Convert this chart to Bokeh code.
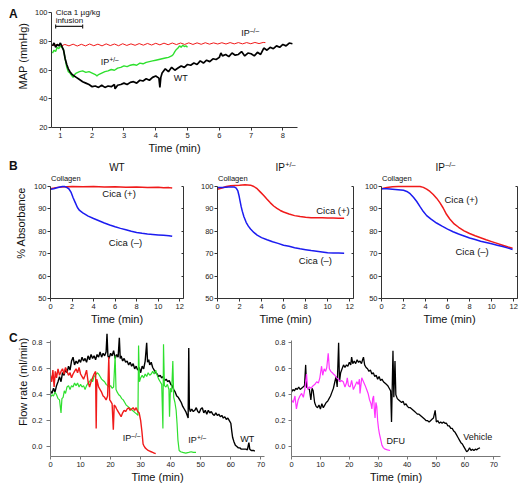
from bokeh.plotting import figure
from bokeh.layouts import column, row
from bokeh.models import Label, LinearAxis, FixedTicker, NumeralTickFormatter, Range1d
from bokeh.embed import file_html
from bokeh.resources import INLINE

FONT = "Liberation Sans"
RED = "#f01a1a"
GREEN = "#2ee02e"
BLUE = "#1c1cf0"
MAGENTA = "#ff33ff"
BLACK = "#000000"

# ---------------- Panel A: MAP (mmHg) vs time (min) ----------------
a_xticks = [1, 2, 3, 4, 5, 6, 7, 8]
a_yticks = [20, 40, 60, 80, 100]
infusion = [0.85, 1.7]
a_wt_t = [0.75, 0.8, 0.85, 0.9, 0.95, 1.0, 1.05, 1.1, 1.15, 1.2,
          1.25, 1.3, 1.35, 1.4, 1.5, 1.6, 1.7, 1.8, 1.9, 2.0,
          2.1, 2.2, 2.3, 2.4, 2.5, 2.6, 2.7, 2.72, 2.8, 2.9,
          3.0, 3.1, 3.2, 3.3, 3.4, 3.5, 3.6, 3.7, 3.8, 3.9,
          4.0, 4.1, 4.13, 4.16, 4.2, 4.3, 4.4, 4.5, 4.6, 4.7,
          4.8, 4.9, 5.0, 5.1, 5.2, 5.3, 5.4, 5.5, 5.6, 5.7,
          5.8, 5.9, 6.0, 6.05, 6.1, 6.2, 6.3, 6.4, 6.5, 6.6,
          6.7, 6.8, 6.9, 7.0, 7.1, 7.2, 7.3, 7.4, 7.5, 7.6,
          7.7, 7.8, 7.9, 8.0, 8.1, 8.2, 8.3]
a_wt_v = [77, 79, 76, 78, 77, 79, 76.5, 74, 68, 64,
          61, 59, 57.5, 56.5, 55, 53.5, 52, 51, 50, 48.5,
          49, 48, 49.5, 48, 49, 48.5, 50, 47, 49.5, 50,
          51, 50, 51.5, 52, 51, 53, 52.5, 54, 53, 55,
          56, 54.5, 48, 55, 58, 61, 59, 62, 60, 61.5,
          63, 62, 64, 63.5, 65, 64, 66.5, 65, 67, 66,
          68, 67.5, 69, 72, 70, 71, 69.5, 72, 70.5, 71,
          73, 70, 72, 71.5, 70, 72.5, 71, 75.5, 74, 76,
          75, 77, 76, 78, 77, 79, 78.5]
a_het_t = [0.75, 0.8, 0.85, 0.9, 0.95, 1.0, 1.05, 1.1, 1.15, 1.2,
           1.25, 1.3, 1.35, 1.4, 1.45, 1.5, 1.6, 1.7, 1.8, 1.9,
           2.0, 2.1, 2.15, 2.2, 2.3, 2.4, 2.5, 2.6, 2.7, 2.8,
           2.9, 3.0, 3.1, 3.2, 3.3, 3.4, 3.5, 3.6, 3.7, 3.8,
           3.9, 4.0, 4.1, 4.2, 4.3, 4.4, 4.5, 4.55, 4.6, 4.65,
           4.7, 4.75, 4.8, 4.85, 4.9, 4.95, 5.0]
a_het_v = [72, 74, 73, 76, 75, 77, 76, 74, 68, 62,
           59, 58, 56.5, 55, 57, 58, 59, 59.5, 58.5, 59,
           58, 57, 56, 57, 58, 59, 59.5, 60.5, 60, 61.5,
           62, 63, 62.5, 63.5, 64, 63.5, 65, 64.5, 65.5, 66,
           66.5, 67, 67.5, 68, 68.5, 69, 70, 71, 73, 74.5,
           75.5, 77, 76, 77.5, 76.5, 77, 76]
a_ko_t = [0.75, 0.88, 1.01, 1.14, 1.27, 1.40, 1.53, 1.66, 1.79, 1.92,
          2.05, 2.18, 2.31, 2.44, 2.57, 2.70, 2.83, 2.96, 3.09, 3.22,
          3.35, 3.48, 3.61, 3.74, 3.87, 4.00, 4.13, 4.26, 4.39, 4.52,
          4.65, 4.78, 4.91, 5.04, 5.17, 5.30, 5.43, 5.56, 5.69, 5.82,
          5.95, 6.08, 6.21, 6.34, 6.47, 6.60, 6.73, 6.86, 6.99, 7.12,
          7.25, 7.38, 7.45]
a_ko_v = [77.2, 77.8, 76.8, 78.0, 77.0, 78.2, 76.9, 78.1, 77.0, 78.3,
          77.1, 78.2, 77.0, 78.4, 77.2, 78.3, 77.1, 78.5, 77.3, 78.4,
          77.4, 78.6, 77.5, 78.7, 77.6, 78.8, 77.7, 78.9, 77.8, 79.0,
          77.9, 79.0, 78.0, 79.1, 78.0, 79.1, 78.1, 79.2, 78.2, 79.1,
          78.3, 79.2, 78.3, 79.3, 78.4, 79.3, 78.4, 79.3, 78.5, 79.4,
          78.6, 79.4, 79.3]

# ---------------- Panel B: % absorbance vs time (min) ----------------
b_xticks = [0, 2, 4, 6, 8, 10, 12]
b_yticks = [50, 60, 70, 80, 90, 100]
b1_plus_t = [0, 0.5, 1.0, 2, 3, 4, 5, 6, 7, 8, 9, 10, 10.5, 11, 11.3]
b1_plus_v = [99, 99.5, 99.8, 100, 99.9, 100, 99.8, 99.9, 99.7, 99.8, 99.6, 99.7, 99.4, 99.5, 99.3]
b1_minus_t = [0, 0.3, 0.6, 0.9, 1.1, 1.3, 1.5, 1.7, 1.9, 2.1,
              2.3, 2.5, 2.7, 3.0, 3.5, 4.0, 4.5, 5.0, 5.5, 6.0,
              6.5, 7.0, 7.5, 8.0, 8.5, 9.0, 9.5, 10.0, 10.5, 11.0, 11.3]
b1_minus_v = [98.8, 99.0, 99.4, 99.8, 100, 100, 99.6, 99, 97.5, 95,
              92.8, 90.6, 89.3, 88.2, 86.8, 85.7, 84.7, 83.7, 82.8, 82,
              81.3, 80.7, 80, 79.5, 79.1, 78.8, 78.6, 78.4, 78.2, 78, 77.8]
b2_plus_t = [0, 0.4, 0.8, 1.2, 1.6, 2.0, 2.5, 3.0, 3.3, 3.6,
             3.9, 4.2, 4.5, 4.8, 5.1, 5.4, 5.7, 6.0, 6.5, 7.0,
             7.5, 8.0, 8.5, 9.0, 9.5, 10.0, 10.5, 11.0, 11.5]
b2_plus_v = [98.8, 99.3, 100, 100.3, 100.5, 100.6, 100.8, 100.6, 100, 99,
             97.5, 96, 94.3, 92.7, 91.3, 90.2, 89.3, 88.6, 87.7, 87,
             86.6, 86.3, 86.1, 86, 86, 85.9, 85.9, 85.8, 85.8]
b2_minus_t = [0, 0.5, 1.0, 1.5, 1.7, 1.85, 1.95, 2.05, 2.15, 2.25,
              2.4, 2.6, 2.8, 3.0, 3.3, 3.6, 4.0, 4.5, 5.0, 5.5,
              6.0, 6.5, 7.0, 7.5, 8.0, 8.5, 9.0, 9.5, 10.0, 10.5, 11.0, 11.5]
b2_minus_v = [99.5, 99.6, 99.8, 99.8, 99.3, 98, 96, 93.5, 91, 89,
              86.5, 84, 82.3, 81, 79.5, 78.3, 77.2, 76.2, 75.3, 74.6,
              73.8, 73.3, 72.7, 72.2, 71.8, 71.4, 71.1, 70.8, 70.4, 70.3, 70.3, 70.2]
b3_plus_t = [0, 0.5, 1.0, 1.5, 2.0, 2.5, 3.0, 3.5, 3.8, 4.1,
             4.4, 4.7, 5.0, 5.3, 5.6, 5.9, 6.2, 6.6, 7.0, 7.5,
             8.0, 8.5, 9.0, 9.5, 10.0, 10.5, 11.0, 11.5, 11.9]
b3_plus_v = [99, 99.6, 99.9, 100, 100, 100, 100, 100, 99.6, 98.8,
             97.8, 96.4, 94.8, 92.8, 90.4, 87.6, 85.5, 83.3, 81.8, 80.2,
             79, 78, 77.1, 76.2, 75.4, 74.6, 73.8, 73, 72.4]
b3_minus_t = [0, 0.5, 1.0, 1.5, 2.0, 2.3, 2.6, 2.9, 3.2, 3.5,
              3.8, 4.1, 4.5, 5.0, 5.5, 6.0, 6.5, 7.0, 7.5, 8.0,
              8.5, 9.0, 9.5, 10.0, 10.5, 11.0, 11.5, 11.9]
b3_minus_v = [99, 99, 98.8, 98.6, 98.3, 97.8, 96.8, 95.2, 93.3, 91,
              88.8, 87, 85.4, 83.7, 82.3, 81, 79.8, 78.8, 77.9, 77,
              76.3, 75.6, 75, 74.4, 73.8, 73.2, 72.5, 71.9]

# ---------------- Panel C: flow rate (ml/min) vs time (min) ----------------
c_xticks = [0, 10, 20, 30, 40, 50, 60, 70]
c_yticks = [0.0, 0.2, 0.4, 0.6, 0.8]
c_wt_t = [0, 0.5, 1, 1.5, 2, 2.5, 3, 3.5, 4, 4.5,
          5, 5.5, 6, 6.5, 7, 7.5, 8, 8.5, 9, 9.5,
          10, 10.5, 11, 11.5, 12, 12.5, 13, 13.5, 14, 14.5,
          15, 15.5, 16, 16.5, 17, 17.5, 18, 18.5, 18.8, 19.1,
          19.5, 20, 20.5, 21, 21.5, 22, 22.5, 22.9, 23.2, 23.5,
          24, 24.5, 25, 25.5, 26, 26.5, 27, 27.5, 28, 28.5,
          29, 29.5, 30, 30.5, 31, 31.5, 32, 32.3, 32.7, 33,
          33.5, 34, 34.5, 35, 35.5, 36, 36.5, 37, 37.5, 38,
          38.5, 39, 39.5, 40, 40.5, 41, 41.5, 42, 42.5, 43,
          43.5, 44, 44.5, 45, 45.5, 45.8, 46, 46.2, 46.5, 47,
          47.5, 48, 48.5, 49, 49.5, 50, 50.5, 51, 51.5, 52,
          52.5, 53, 53.5, 54, 54.5, 55, 55.5, 56, 56.5, 57,
          57.5, 58, 58.5, 59, 59.5, 60, 60.3, 60.6, 61, 61.5,
          62, 62.5, 63, 63.5, 64, 64.5, 65, 65.5, 66, 66.3,
          66.8, 67.5, 68]
c_wt_v = [0.43, 0.41, 0.45, 0.42, 0.47, 0.5, 0.54, 0.5, 0.57, 0.55,
          0.6, 0.57, 0.62, 0.59, 0.66, 0.69, 0.63, 0.66, 0.64, 0.67,
          0.65, 0.69, 0.66, 0.68, 0.65, 0.7, 0.67, 0.71, 0.68, 0.7,
          0.67, 0.71, 0.69, 0.73, 0.69, 0.72, 0.7, 0.73, 0.87, 0.7,
          0.68, 0.72, 0.7, 0.74, 0.68, 0.71, 0.69, 0.84, 0.68, 0.7,
          0.66, 0.68, 0.65, 0.66, 0.63, 0.65, 0.62, 0.64, 0.6, 0.62,
          0.59, 0.61, 0.57, 0.62, 0.6, 0.66, 0.8, 0.65, 0.67, 0.63,
          0.65, 0.61, 0.59, 0.57, 0.56, 0.54, 0.55, 0.53, 0.54, 0.51,
          0.52, 0.5, 0.51, 0.48, 0.47, 0.44, 0.42, 0.39, 0.38, 0.36,
          0.34, 0.31, 0.29, 0.27, 0.24, 0.22, 0.76, 0.3, 0.27, 0.29,
          0.27, 0.28, 0.3, 0.27, 0.26, 0.29, 0.3, 0.26, 0.28, 0.25,
          0.28, 0.26, 0.27, 0.25, 0.24, 0.26, 0.24, 0.25, 0.23, 0.24,
          0.22, 0.23, 0.21, 0.22, 0.2, 0.18, 0.12, 0.07, 0.04, 0.01,
          0.0, -0.01, -0.01, -0.02, -0.02, -0.02, -0.02, -0.025, 0.03, -0.02,
          -0.03, -0.03, -0.035]
c_ko_t = [0, 0.4, 0.8, 1.2, 1.6, 2, 2.5, 3, 3.5, 4,
          4.5, 5, 5.5, 6, 6.5, 7, 7.5, 8, 8.5, 9,
          9.5, 10, 10.5, 11, 11.5, 12, 12.5, 13, 13.5, 14,
          14.5, 15, 15.2, 15.4, 16, 16.5, 17, 17.5, 18, 18.5,
          19, 19.4, 19.7, 20, 20.5, 20.9, 21.2, 21.6, 22, 22.5,
          23, 23.5, 24, 24.5, 25, 25.5, 26, 26.5, 27, 27.5,
          28, 28.5, 29, 29.5, 30, 30.4, 30.8, 31, 31.5, 32,
          32.5, 33, 33.5, 34, 34.5, 35]
c_ko_v = [0.55, 0.5, 0.59, 0.46, 0.58, 0.53, 0.6, 0.55, 0.58, 0.6,
          0.56, 0.61, 0.58, 0.55, 0.57, 0.53, 0.56, 0.58, 0.6, 0.57,
          0.61, 0.56, 0.54, 0.52, 0.55, 0.59, 0.5, 0.46, 0.5, 0.53,
          0.56, 0.58, 0.14, 0.52, 0.46, 0.44, 0.42, 0.39, 0.38, 0.36,
          0.39, 0.69, 0.36, 0.35, 0.33, 0.13, 0.32, 0.31, 0.29, 0.27,
          0.25, 0.23, 0.26, 0.28, 0.27, 0.29, 0.3, 0.28, 0.29, 0.3,
          0.28, 0.3, 0.27, 0.26, 0.2, 0.12, 0.02, 0.01, -0.01, -0.02,
          -0.03, -0.035, -0.04, -0.045, -0.05, -0.055]
c_het_t = [0, 0.5, 1, 1.5, 2, 2.5, 3, 3.5, 3.8, 4.2,
           4.6, 5, 5.5, 6, 6.5, 7, 7.5, 8, 8.5, 9,
           9.5, 10, 10.5, 11, 11.5, 12, 12.5, 13, 13.5, 14,
           14.5, 15, 15.5, 16, 16.5, 17, 17.5, 18, 18.5, 19,
           19.5, 20, 20.5, 21, 21.5, 21.8, 22.2, 22.7, 23.2, 23.7,
           24.2, 24.7, 25.2, 25.7, 26.2, 26.7, 27.2, 27.7, 28.2, 28.7,
           29.1, 29.3, 29.6, 30, 30.5, 31, 31.5, 32, 32.5, 33,
           33.5, 34, 34.5, 35, 35.5, 36, 36.5, 37, 37.4, 37.6,
           37.9, 38.4, 38.9, 39.4, 39.6, 39.9, 40.3, 40.7, 41, 41.4,
           41.8, 42.1, 42.4, 42.8, 43.3, 44, 45, 46, 46.8, 47.5,
           48.4]
c_het_v = [0.38, 0.4, 0.39, 0.42, 0.4, 0.37, 0.36, 0.26, 0.37, 0.38,
           0.43, 0.41, 0.46, 0.47, 0.44, 0.47, 0.46, 0.49, 0.47, 0.49,
           0.46, 0.48, 0.46, 0.47, 0.44, 0.47, 0.49, 0.5, 0.52, 0.5,
           0.54, 0.55, 0.57, 0.56, 0.54, 0.52, 0.51, 0.5, 0.48, 0.47,
           0.46, 0.47, 0.45, 0.46, 0.7, 0.44, 0.42, 0.4, 0.39, 0.37,
           0.36, 0.34, 0.32, 0.31, 0.3, 0.29, 0.28, 0.27, 0.26, 0.25,
           0.24, 0.78, 0.5, 0.53, 0.55, 0.53, 0.56, 0.54, 0.57, 0.55,
           0.56, 0.58, 0.56, 0.59, 0.55, 0.52, 0.5, 0.48, 0.14, 0.79,
           0.47, 0.46, 0.48, 0.44, 0.23, 0.45, 0.42, 0.66, 0.38, 0.34,
           0.28, 0.18, 0.05, -0.03, -0.04, -0.045, -0.05, -0.045, -0.04, -0.045,
           -0.045]
c_veh_t = [0, 0.5, 1, 1.5, 2, 2.5, 3, 3.5, 4, 4.5,
           4.9, 5.2, 5.7, 6.2, 6.7, 7.1, 7.5, 8, 8.5, 9,
           9.5, 10, 10.5, 11, 11.5, 12, 12.5, 13, 13.5, 14,
           14.5, 15, 15.4, 15.8, 16.3, 16.6, 17, 17.5, 18, 18.5,
           19, 19.5, 20, 20.5, 20.8, 21.2, 21.7, 22.2, 22.7, 23.2,
           23.7, 24.2, 24.6, 24.9, 25.3, 25.8, 26.3, 26.8, 27.3, 27.8,
           28.3, 28.8, 29.3, 29.8, 30.3, 30.8, 31.3, 31.8, 32.3, 32.8,
           33.3, 33.8, 34.3, 34.6, 35.1, 35.4, 35.8, 36.1, 36.6, 37.1,
           37.6, 38.1, 38.6, 39.1, 39.6, 40.1, 40.6, 41.1, 41.6, 42.1,
           42.6, 43.1, 43.6, 44.1, 44.6, 45.1, 45.6, 46.1, 46.6, 47.1,
           47.6, 48.1, 48.6, 49.1, 49.7, 50.1, 50.6, 51.1, 51.6, 52.1,
           52.6, 53.1, 53.6, 54.1, 54.6, 55.1, 55.6, 56.1, 56.6, 57.1,
           57.6, 58.1, 58.6, 59.1, 59.6, 60.1, 60.6, 61.1, 61.6, 62.1,
           62.6, 63.1, 63.6, 64.1, 64.6, 65.2]
c_veh_v = [0.42, 0.44, 0.43, 0.45, 0.44, 0.46, 0.44, 0.45, 0.46, 0.47,
           0.63, 0.46, 0.45, 0.44, 0.36, 0.45, 0.43, 0.34, 0.31, 0.3,
           0.32, 0.29, 0.33, 0.3, 0.32, 0.34, 0.35, 0.37, 0.39, 0.42,
           0.45, 0.5, 0.54, 0.46, 0.8, 0.5, 0.57, 0.6, 0.63, 0.61,
           0.63, 0.62, 0.65, 0.63, 0.69, 0.64, 0.66, 0.64, 0.67, 0.65,
           0.66, 0.64, 0.67, 0.69, 0.63, 0.61, 0.6, 0.58, 0.59, 0.56,
           0.57, 0.54, 0.55, 0.52, 0.54, 0.51, 0.52, 0.5, 0.49, 0.48,
           0.47, 0.45, 0.43, 0.19, 0.74, 0.38, 0.66, 0.4, 0.37, 0.36,
           0.35, 0.34, 0.35, 0.32, 0.33, 0.31, 0.3, 0.3, 0.29, 0.28,
           0.27, 0.26, 0.25, 0.25, 0.24, 0.23, 0.22, 0.21, 0.2, 0.2,
           0.19, 0.2, 0.21, 0.22, 0.28, 0.19, 0.2, 0.18, 0.19, 0.18,
           0.19, 0.18, 0.18, 0.16, 0.16, 0.14, 0.14, 0.12, 0.11, 0.09,
           0.07, 0.05, 0.03, 0.02, 0.0, -0.02, -0.04, -0.03, -0.01, -0.03,
           -0.02, -0.03, -0.02, -0.025, -0.015, -0.01]
c_dfu_t = [0, 0.6, 1.2, 1.7, 2.3, 2.9, 3.5, 4.1, 4.6, 5.2,
           5.6, 6.2, 6.8, 7.5, 8.1, 8.7, 9.3, 9.8, 10.4, 10.8,
           11.3, 11.8, 12.2, 12.7, 13.1, 13.6, 14.1, 14.5, 15, 15.6,
           16.2, 16.8, 17.3, 17.9, 18.5, 19, 19.3, 19.7, 20.3, 20.8,
           21.4, 22, 22.6, 23.1, 23.5, 23.7, 24.3, 24.9, 25.5, 26,
           26.5, 27, 27.5, 27.8, 28.1, 28.4, 28.7, 28.9, 29.2, 29.5,
           29.8, 30.1, 30.4, 30.7, 31, 31.3, 31.8, 32.4, 33.2, 34.1]
c_dfu_v = [0.36, 0.34, 0.39, 0.29, 0.36, 0.39, 0.41, 0.38, 0.44, 0.56,
           0.44, 0.46, 0.45, 0.47, 0.48, 0.5, 0.49, 0.53, 0.62, 0.55,
           0.6, 0.58, 0.61, 0.72, 0.6, 0.58, 0.57, 0.56, 0.55, 0.53,
           0.52, 0.5, 0.51, 0.5, 0.46, 0.49, 0.53, 0.47, 0.46, 0.51,
           0.44, 0.47, 0.5, 0.48, 0.52, 0.41, 0.53, 0.5, 0.47, 0.44,
           0.41, 0.36, 0.33, 0.29, 0.37, 0.39, 0.27, 0.22, 0.34, 0.31,
           0.2, 0.14, 0.1, 0.07, 0.04, 0.01, -0.01, -0.02, -0.025, -0.03]


def make_fig(width, height, xr, yr, left, right, top, bottom):
    p = figure(width=width, height=height, x_range=Range1d(*xr), y_range=Range1d(*yr),
               output_backend="svg", toolbar_location=None,
               min_border_left=left, min_border_right=right,
               min_border_top=top, min_border_bottom=bottom)
    p.xgrid.visible = False
    p.ygrid.visible = False
    p.outline_line_color = None
    p.background_fill_color = "white"
    p.border_fill_color = "white"
    return p


def make_gutter(width, top, bottom):
    # text-only strip: data units equal page pixels (y grows downward)
    p = figure(width=width, height=bottom - top, x_range=Range1d(8, 8 + width),
               y_range=Range1d(bottom, top), output_backend="svg", toolbar_location=None,
               x_axis_type=None, y_axis_type=None, min_border=0)
    p.outline_line_color = None
    p.background_fill_color = "white"
    p.border_fill_color = "white"
    return p


def style_axis(ax, ticks, color, tick_out=3, standoff=2, label_standoff=1, fmt=None,
               label_size="7.5px", axis_label_size="11px", bounds=None):
    ax.ticker = FixedTicker(ticks=ticks)
    ax.axis_line_color = color
    ax.major_tick_line_color = color
    ax.major_tick_out = tick_out
    ax.major_tick_in = 0
    ax.minor_tick_line_color = None
    ax.major_label_text_font = FONT
    ax.major_label_text_font_size = label_size
    ax.major_label_text_color = "#222222"
    ax.major_label_standoff = standoff
    ax.axis_label_text_font = FONT
    ax.axis_label_text_font_style = "normal"
    ax.axis_label_text_font_size = axis_label_size
    ax.axis_label_text_color = "#111111"
    ax.axis_label_standoff = label_standoff
    if fmt is not None:
        ax.formatter = fmt
    if bounds is not None:
        ax.bounds = bounds


def txt(p, x, y, text, size=9.0, align="left", bold=False, dx=0, dy=0, angle=0):
    p.add_layout(Label(x=x, y=y, text=text, text_font=FONT, text_font_size=f"{size}px",
                       text_align=align, text_baseline="middle",
                       text_font_style="bold" if bold else "normal",
                       x_offset=dx, y_offset=dy, text_color="#111111",
                       angle=angle, angle_units="deg"))


def ip(p, x, y, sup, size=9.0, dx=0, dy=0):
    txt(p, x, y, "IP", size=size, dx=dx, dy=dy)
    txt(p, x, y, sup, size=round(size * 0.72, 1), dx=dx + size * 0.97, dy=dy + size * 0.3)


# ---------------- Row A ----------------
gA = make_gutter(23, 8, 158)
txt(gA, 8.5, 15, "A", size=12, bold=True)
txt(gA, 22, 68, "MAP (mmHg)", size=11, align="center", angle=90)

pA = make_fig(277, 150, (0.72, 8.46), (20, 103.1), 17, 11, 0, 31)
style_axis(pA.xaxis[0], a_xticks, "#333333", standoff=2, label_standoff=1)
style_axis(pA.yaxis[0], a_yticks, "#333333", standoff=1, bounds=(a_yticks[0], a_yticks[-1]))
pA.xaxis.axis_label = "Time (min)"
pA.line(a_ko_t, a_ko_v, line_color=RED, line_width=1.0)
pA.line(a_het_t, a_het_v, line_color=GREEN, line_width=1.4)
pA.line(a_wt_t, a_wt_v, line_color=BLACK, line_width=1.7)
pA.segment(x0=[infusion[0]], y0=[90.6], x1=[infusion[1]], y1=[90.6], line_color="#222222", line_width=1.2)
pA.segment(x0=infusion, y0=[89.2, 89.2], x1=infusion, y1=[92.0, 92.0], line_color="#222222", line_width=1.2)
txt(pA, infusion[0], 100.0, "Cica 1 µg/kg", size=8)
txt(pA, infusion[0], 94.6, "infusion", size=8)
ip(pA, 6.69, 85.7, "–/–")
ip(pA, 2.27, 65.4, "+/–")
txt(pA, 4.57, 54.9, "WT", size=9)

# ---------------- Row B ----------------
B_X = (0, 12.35)
B_Y = (50, 112.5)

gB = make_gutter(22, 158, 332)
txt(gB, 8.5, 167.5, "B", size=12, bold=True)
txt(gB, 20, 238, "% Absorbance", size=11, align="center", angle=90)


def make_b(width, left, right, t_plus, v_plus, t_minus, v_minus):
    p = make_fig(width, 174, B_X, B_Y, left, right, 0, 34)
    style_axis(p.xaxis[0], b_xticks, "#333333", standoff=2, label_standoff=1)
    style_axis(p.yaxis[0], b_yticks, "#333333", standoff=1,
               bounds=(b_yticks[0], b_yticks[-1]))
    p.xaxis.axis_label = "Time (min)"
    rax = LinearAxis(ticker=FixedTicker(ticks=b_yticks), bounds=(b_yticks[0], b_yticks[-1]))
    rax.axis_line_color = "#333333"
    rax.major_tick_line_color = "#333333"
    rax.major_tick_in = 2
    rax.major_tick_out = 0
    rax.minor_tick_line_color = None
    rax.major_label_overrides = {t: "" for t in b_yticks}
    rax.major_label_standoff = 0
    p.add_layout(rax, "right")
    p.line(t_plus, v_plus, line_color=RED, line_width=1.5)
    p.line(t_minus, v_minus, line_color=BLUE, line_width=1.5)
    txt(p, 0, 103.6, "Collagen", size=7.5, dx=0.5)
    return p


pB1 = make_b(160, 17, 7, b1_plus_t, b1_plus_v, b1_minus_t, b1_minus_v)
txt(pB1, 6.17, 108.5, "WT", size=10, align="center")
txt(pB1, 4.81, 96.9, "Cica (+)", size=9.5)
txt(pB1, 5.42, 75.1, "Cica (–)", size=9.5)

pB2 = make_b(165, 27, 2, b2_plus_t, b2_plus_v, b2_minus_t, b2_minus_v)
ip(pB2, 5.27, 108.5, "+/–", size=10)
txt(pB2, 8.96, 89.4, "Cica (+)", size=9.5)
txt(pB2, 7.38, 66.9, "Cica (–)", size=9.5)

pB3 = make_b(164, 26, 2, b3_plus_t, b3_plus_v, b3_minus_t, b3_minus_v)
ip(pB3, 4.9, 108.5, "–/–", size=10)
txt(pB3, 5.72, 94.2, "Cica (+)", size=9.5)
txt(pB3, 6.72, 71.1, "Cica (–)", size=9.5)

# ---------------- Row C ----------------
C_Y = (-0.0766, 0.88)
C_BOUNDS = (-0.0766, 0.82)
fmt = NumeralTickFormatter(format="0.0")

gC = make_gutter(21, 332, 485)
txt(gC, 8.5, 339, "C", size=12, bold=True)
txt(gC, 22, 393, "Flow rate (ml/min)", size=11, align="center", angle=90)

pC1 = make_fig(241, 153, (0, 71.2), C_Y, 19, 6, 0, 28)
style_axis(pC1.xaxis[0], c_xticks, "#777777", standoff=2, label_standoff=1)
style_axis(pC1.yaxis[0], c_yticks, "#777777", tick_out=4, standoff=4, fmt=fmt, bounds=C_BOUNDS)
pC1.xaxis.axis_label = "Time (min)"
pC1.line(c_wt_t, c_wt_v, line_color=BLACK, line_width=1.4)
pC1.line(c_het_t, c_het_v, line_color=GREEN, line_width=1.2)
pC1.line(c_ko_t, c_ko_v, line_color=RED, line_width=1.4)
ip(pC1, 24.0, 0.066, "–/–")
ip(pC1, 45.8, 0.053, "+/–")
txt(pC1, 63.1, 0.058, "WT", size=9)

pC2 = make_fig(249, 153, (0, 72.3), C_Y, 21, 19, 0, 28)
style_axis(pC2.xaxis[0], c_xticks, "#777777", standoff=2, label_standoff=1)
style_axis(pC2.yaxis[0], c_yticks, "#777777", tick_out=3, standoff=3, fmt=fmt, bounds=C_BOUNDS)
pC2.xaxis.axis_label = "Time (min)"
pC2.line(c_veh_t, c_veh_v, line_color=BLACK, line_width=1.3)
pC2.line(c_dfu_t, c_dfu_v, line_color=MAGENTA, line_width=1.2)
txt(pC2, 32.9, 0.04, "DFU", size=9)
txt(pC2, 59.4, 0.07, "Vehicle", size=9)

layout = column(row(gA, pA), row(gB, pB1, pB2, pB3), row(gC, pC1, pC2), margin=(8, 0, 0, 8))
open("out.html", "w").write(file_html(layout, INLINE))
